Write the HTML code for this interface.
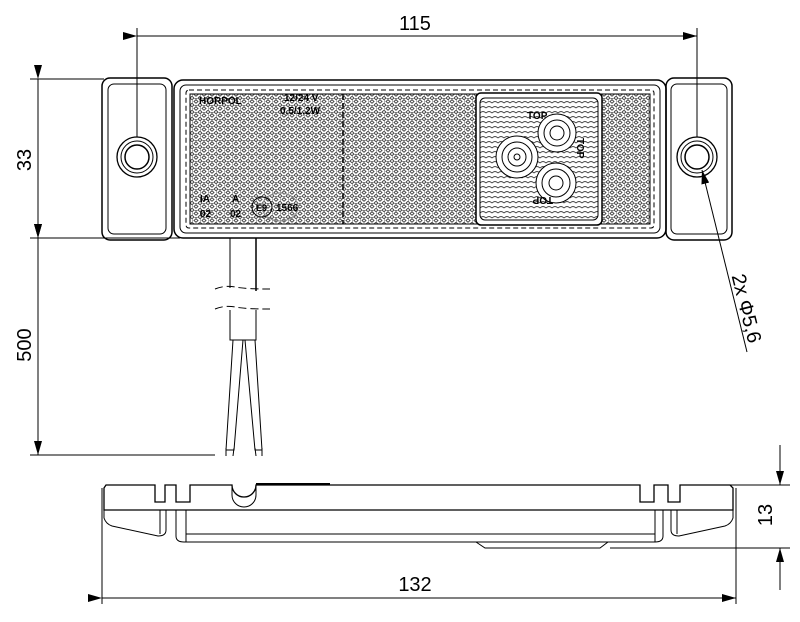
<!DOCTYPE html>
<html><head><meta charset="utf-8"><style>
html,body{margin:0;padding:0;background:#fff;}
svg{display:block;font-family:"Liberation Sans",sans-serif;}
</style></head><body>
<svg width="800" height="622" viewBox="0 0 800 622" xmlns="http://www.w3.org/2000/svg">
<defs>
<pattern id="hex" width="8" height="7" patternUnits="userSpaceOnUse">
<path d="M0,1.75 L2,0 L6,0 L8,1.75 M0,5.25 L2,7 M8,5.25 L6,7 M2,3.5 L4,1.75 L6,3.5 L4,5.25 Z M4,1.75 V0 M0,1.75 V5.25" fill="none" stroke="#444" stroke-width="0.9"/>
</pattern>
<pattern id="swirl" width="6" height="5" patternUnits="userSpaceOnUse">
<path d="M0,3 Q3,0 6,3" fill="none" stroke="#444" stroke-width="0.9"/>
</pattern>
<marker id="ar" markerWidth="14" markerHeight="8" refX="14" refY="4" orient="auto" markerUnits="userSpaceOnUse"><path d="M0,0 L14,4 L0,8 Z" fill="#000"/></marker>
</defs>
<g fill="none" stroke="#000" stroke-width="1">
<line x1="137" y1="28" x2="137" y2="140"/>
<line x1="697" y1="28" x2="697" y2="140"/>
<line x1="137" y1="36" x2="697" y2="36" marker-start="url(#ar)" marker-end="url(#ar)"/>
<line x1="30" y1="79" x2="104" y2="79"/>
<line x1="30" y1="238" x2="180" y2="238"/>
<line x1="30" y1="455" x2="215" y2="455"/>
<line x1="38" y1="79" x2="38" y2="238" marker-start="url(#ar)" marker-end="url(#ar)"/>
<line x1="38" y1="238" x2="38" y2="455" marker-start="url(#ar)" marker-end="url(#ar)"/>
<rect x="102" y="78" width="70" height="162" rx="8" stroke-width="1.5"/>
<rect x="108" y="84" width="58" height="150" rx="6"/>
<rect x="666" y="78" width="66" height="162" rx="8" stroke-width="1.5"/>
<rect x="671" y="84" width="56" height="150" rx="6"/>
<rect x="174" y="80" width="492" height="158" rx="9" stroke-width="1.5"/>
<rect x="180" y="85" width="480" height="148" rx="6"/>
<rect x="186" y="90" width="468" height="138" rx="3" stroke-dasharray="5,3"/>
<rect x="190" y="94" width="460" height="130" fill="url(#hex)"/>
<rect x="190" y="94" width="460" height="130"/>
<line x1="343" y1="94" x2="343" y2="224" stroke-dasharray="6,3" stroke-width="1.5"/>
<rect x="476" y="93" width="126" height="132" rx="5" fill="#fff" stroke-width="1.5"/>
<rect x="480" y="98" width="118" height="122" rx="5" fill="url(#swirl)"/>
<circle cx="517" cy="157" r="21" fill="#fff"/><circle cx="517" cy="157" r="15"/><circle cx="517" cy="157" r="9"/><circle cx="517" cy="157" r="3"/>
<circle cx="557" cy="133" r="19" fill="#fff"/><circle cx="557" cy="133" r="13"/><circle cx="557" cy="133" r="7"/>
<circle cx="556" cy="183" r="20" fill="#fff"/><circle cx="556" cy="183" r="14"/><circle cx="556" cy="183" r="7"/>
<circle cx="137" cy="157" r="20" fill="#fff" stroke-width="1.3"/><circle cx="137" cy="157" r="16"/><circle cx="137" cy="157" r="12" stroke-width="1.5"/>
<circle cx="697" cy="157" r="20" fill="#fff" stroke-width="1.3"/><circle cx="697" cy="157" r="16"/><circle cx="697" cy="157" r="12" stroke-width="1.5"/>
<ellipse cx="280" cy="207" rx="18" ry="14" stroke="#888"/>
<circle cx="262" cy="207" r="10"/>
<line x1="747" y1="352" x2="702" y2="170" marker-end="url(#ar)"/>
<line x1="230" y1="238" x2="230" y2="288"/>
<line x1="256" y1="238" x2="256" y2="291" stroke-width="1.5"/>
<path d="M215,289 Q225,285 235,287 T270,289" stroke-dasharray="8,4"/>
<path d="M215,309 Q225,305 235,307 T270,309" stroke-dasharray="8,4"/>
<path d="M230,310 V340 H256 V310"/>
<path d="M233,340 L226,450 L234,450 L243,340"/>
<path d="M245,340 L255,450 L262,450 L255,340"/>
<path d="M226,448 L226,456 M234,448 L233,456 M255,448 L256,456 M262,448 L262,456"/>
<!-- bottom view -->
<path d="M104,488 L106,485 H155 V502 H165 V485 H176 V502 H190 V485 H232 A12,12 0 0 0 256,485 H640 V502 H654 V485 H668 V502 H680 V485 H730 L733,488 V510 H104 Z" stroke-width="1.3"/>
<line x1="256" y1="484" x2="330" y2="484" stroke-width="2"/>
<path d="M232,485 V495 A12,12 0 0 0 256,495 V485"/>
<path d="M104,510 V518 Q106,524 112,526 L158,536 Q166,536 166,530 V510"/>
<line x1="160" y1="510" x2="160" y2="534"/>
<path d="M733,510 V518 Q731,524 725,526 L679,536 Q671,536 671,530 V510"/>
<line x1="677" y1="510" x2="677" y2="534"/>
<path d="M176,510 V536 Q176,542 184,542 H655 Q663,542 663,536 V510"/>
<line x1="186" y1="510" x2="186" y2="542"/>
<line x1="655" y1="510" x2="655" y2="542"/>
<line x1="186" y1="534" x2="655" y2="534"/>
<path d="M476,542 L485,548 H600 L608,542"/>
<line x1="690" y1="485" x2="790" y2="485"/>
<line x1="610" y1="548" x2="790" y2="548"/>
<line x1="780" y1="445" x2="780" y2="485" marker-end="url(#ar)"/>
<line x1="780" y1="590" x2="780" y2="548" marker-end="url(#ar)"/>
<line x1="102" y1="488" x2="102" y2="604"/>
<line x1="736" y1="488" x2="736" y2="604"/>
<line x1="102" y1="598" x2="736" y2="598" marker-start="url(#ar)" marker-end="url(#ar)"/>
</g>
<g fill="#000" font-size="20">
<text x="415" y="30" text-anchor="middle">115</text>
<text x="415" y="591" text-anchor="middle">132</text>
<text transform="translate(31,160) rotate(-90)" text-anchor="middle">33</text>
<text transform="translate(31,345) rotate(-90)" text-anchor="middle">500</text>
<text transform="translate(772,515) rotate(-90)" text-anchor="middle">13</text>
<text transform="translate(740,310) rotate(76)" text-anchor="middle">2x Φ5,6</text>
</g>
<g fill="#000" font-size="10" font-weight="bold">
<text x="199" y="104">HORPOL</text>
<text x="284" y="101">12/24 V</text>
<text x="280" y="114">0,5/1,2W</text>
<text x="200" y="202">IA</text><text x="200" y="217">02</text>
<text x="232" y="202">A</text><text x="230" y="217">02</text>
<text x="256" y="211" font-size="9">E9</text>
<text x="276" y="211">1566</text>
<text x="527" y="119">TOP</text>
<text transform="translate(577,138) rotate(90)">TOP</text>
<text transform="translate(553,197) rotate(180)">TOP</text>
</g>
</svg>
</body></html>
